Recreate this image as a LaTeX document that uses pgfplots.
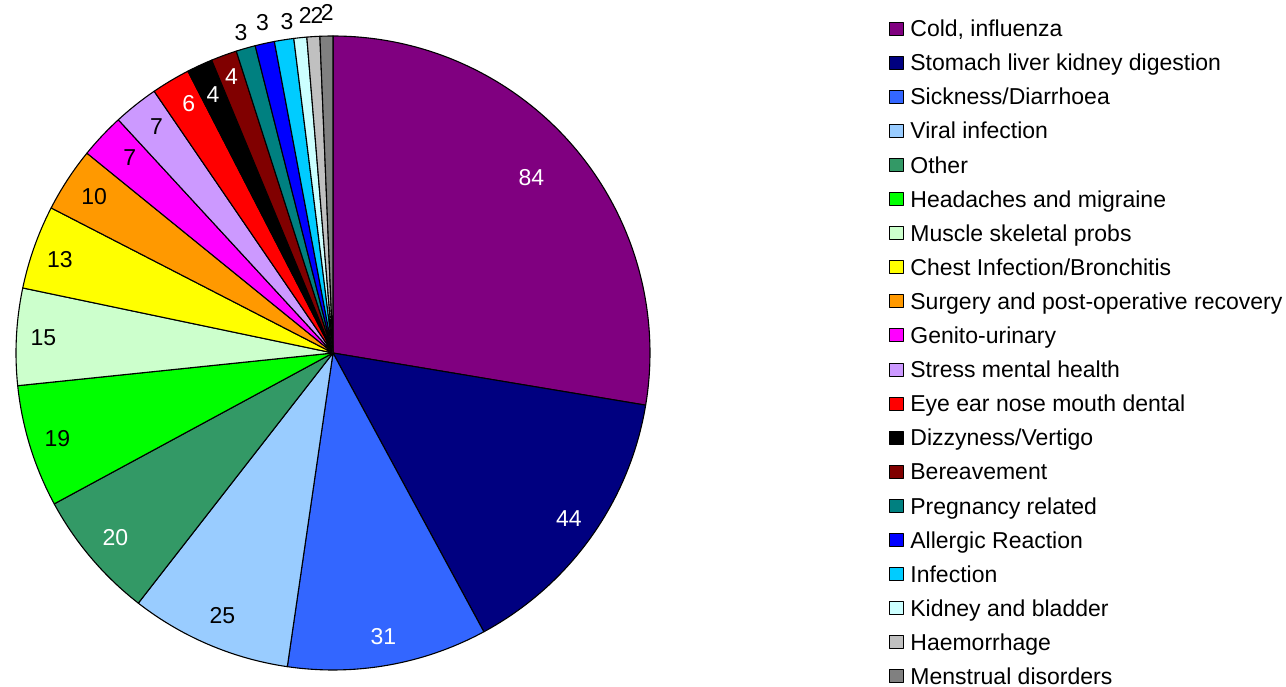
\documentclass[border=0pt]{standalone}
\usepackage{pgfplots}
\pgfplotsset{compat=1.18}
\usepackage{pgfplotstable}
\usepackage{fontspec}
\setmainfont{Liberation Sans}

\definecolor{c1}{HTML}{800080}
\definecolor{c2}{HTML}{000080}
\definecolor{c3}{HTML}{3366FF}
\definecolor{c4}{HTML}{99CCFF}
\definecolor{c5}{HTML}{339966}
\definecolor{c6}{HTML}{00FF00}
\definecolor{c7}{HTML}{CCFFCC}
\definecolor{c8}{HTML}{FFFF00}
\definecolor{c9}{HTML}{FF9900}
\definecolor{c10}{HTML}{FF00FF}
\definecolor{c11}{HTML}{CC99FF}
\definecolor{c12}{HTML}{FF0000}
\definecolor{c13}{HTML}{000000}
\definecolor{c14}{HTML}{800000}
\definecolor{c15}{HTML}{008080}
\definecolor{c16}{HTML}{0000FF}
\definecolor{c17}{HTML}{00CCFF}
\definecolor{c18}{HTML}{CCFFFF}
\definecolor{c19}{HTML}{C0C0C0}
\definecolor{c20}{HTML}{808080}

% value; fill colour; label colour; label radius factor; label angle tweak; name
\pgfplotstableread[col sep=semicolon]{
value;col;tcol;rf;da;name
84;c1;white;0.835;1.2;Cold, influenza
44;c2;white;0.91;0.4;Stomach liver kidney digestion
31;c3;white;0.91;0;Sickness/Diarrhoea
25;c4;black;0.90;0.3;Viral infection
20;c5;white;0.90;0;Other
19;c6;black;0.91;0;Headaches and migraine
15;c7;black;0.915;0;Muscle skeletal probs
13;c8;black;0.91;0.7;Chest Infection/Bronchitis
10;c9;black;0.90;0;Surgery and post-operative recovery
7;c10;black;0.89;-0.7;Genito-urinary
7;c11;black;0.905;-0.5;Stress mental health
6;c12;white;0.91;-0.8;Eye ear nose mouth dental
4;c13;white;0.90;0;Dizzyness/Vertigo
4;c14;white;0.93;0;Bereavement
3;c15;black;1.053;0;Pregnancy related
3;c16;black;1.065;-0.4;Allergic Reaction
3;c17;black;1.055;-1;Infection
2;c18;black;1.067;-1.2;Kidney and bladder
2;c19;black;1.067;-0.85;Haemorrhage
2;c20;black;1.073;-0.2;Menstrual disorders
}\piedata

\tikzset{pielabel/.style={font=\fontsize{23}{27}\selectfont, inner sep=0pt, anchor=center}}

\begin{document}
\begin{tikzpicture}
\begin{axis}[
  name=ax,
  scale only axis, width=1286pt, height=687pt,
  xmin=0, xmax=1286, ymin=-687, ymax=0,
  hide axis, clip=false,
  legend cell align=left,
  legend style={draw=none, fill=none, inner sep=0pt, outer sep=0pt,
    at={(axis cs:889,-19.7)}, anchor=north west,
    font=\fontsize{23}{27}\selectfont,
    row sep=12.1pt,
    nodes={inner sep=0pt, text height=17pt, text depth=5pt},
    /tikz/every odd column/.append style={column sep=7pt}},
  legend image code/.code={\draw[#1,draw=black,line width=0.9pt] (0pt,-4.3pt) rectangle (13.5pt,8.7pt);},
]
\pgfplotstablegetrowsof{\piedata}
\pgfmathtruncatemacro{\N}{\pgfplotsretval-1}
\def\total{0}
\pgfplotsforeachungrouped \i in {0,...,\N}{%
  \pgfplotstablegetelem{\i}{value}\of\piedata
  \pgfmathsetmacro{\total}{\total+\pgfplotsretval}%
  \xdef\total{\total}%
}
\pgfmathsetmacro{\dpu}{360/\total}
\def\cum{0}
\pgfplotsforeachungrouped \i in {0,...,\N}{%
  \pgfplotstablegetelem{\i}{value}\of\piedata \let\sv\pgfplotsretval
  \pgfplotstablegetelem{\i}{col}\of\piedata \let\sc\pgfplotsretval
  \pgfplotstablegetelem{\i}{tcol}\of\piedata \let\tc\pgfplotsretval
  \pgfplotstablegetelem{\i}{rf}\of\piedata \let\rf\pgfplotsretval
  \pgfplotstablegetelem{\i}{da}\of\piedata \let\da\pgfplotsretval
  \pgfplotstablegetelem{\i}{name}\of\piedata \let\nm\pgfplotsretval
  \pgfmathsetmacro{\astart}{90-\dpu*\cum}%
  \pgfmathsetmacro{\aend}{90-\dpu*(\cum+\sv)}%
  \pgfmathsetmacro{\amid}{(\astart+\aend)/2+\da}%
  \pgfmathtruncatemacro{\ns}{max(4,\sv*1.5)}%
  \pgfmathsetmacro{\lx}{333+317*\rf*cos(\amid)}%
  \pgfmathsetmacro{\ly}{-353+317*\rf*sin(\amid)}%
  \edef\cmd{%
    \noexpand\addplot[fill=\sc, draw=black, line width=1.1pt, line join=round,
      domain=\aend:\astart, samples=\ns, variable=\noexpand\t]
      ({333+317*cos(\noexpand\t)},{-353+317*sin(\noexpand\t)}) -- (axis cs:333,-353) -- cycle;
    \noexpand\addlegendentry{\nm}
    \noexpand\node[pielabel, text=\tc] at (axis cs:\lx,\ly) {\sv};
  }%
  \cmd
  \pgfmathsetmacro{\cum}{\cum+\sv}%
  \xdef\cum{\cum}%
}
\end{axis}
\pgfresetboundingbox
\path (ax.south west) rectangle (ax.north east);
\end{tikzpicture}
\end{document}
